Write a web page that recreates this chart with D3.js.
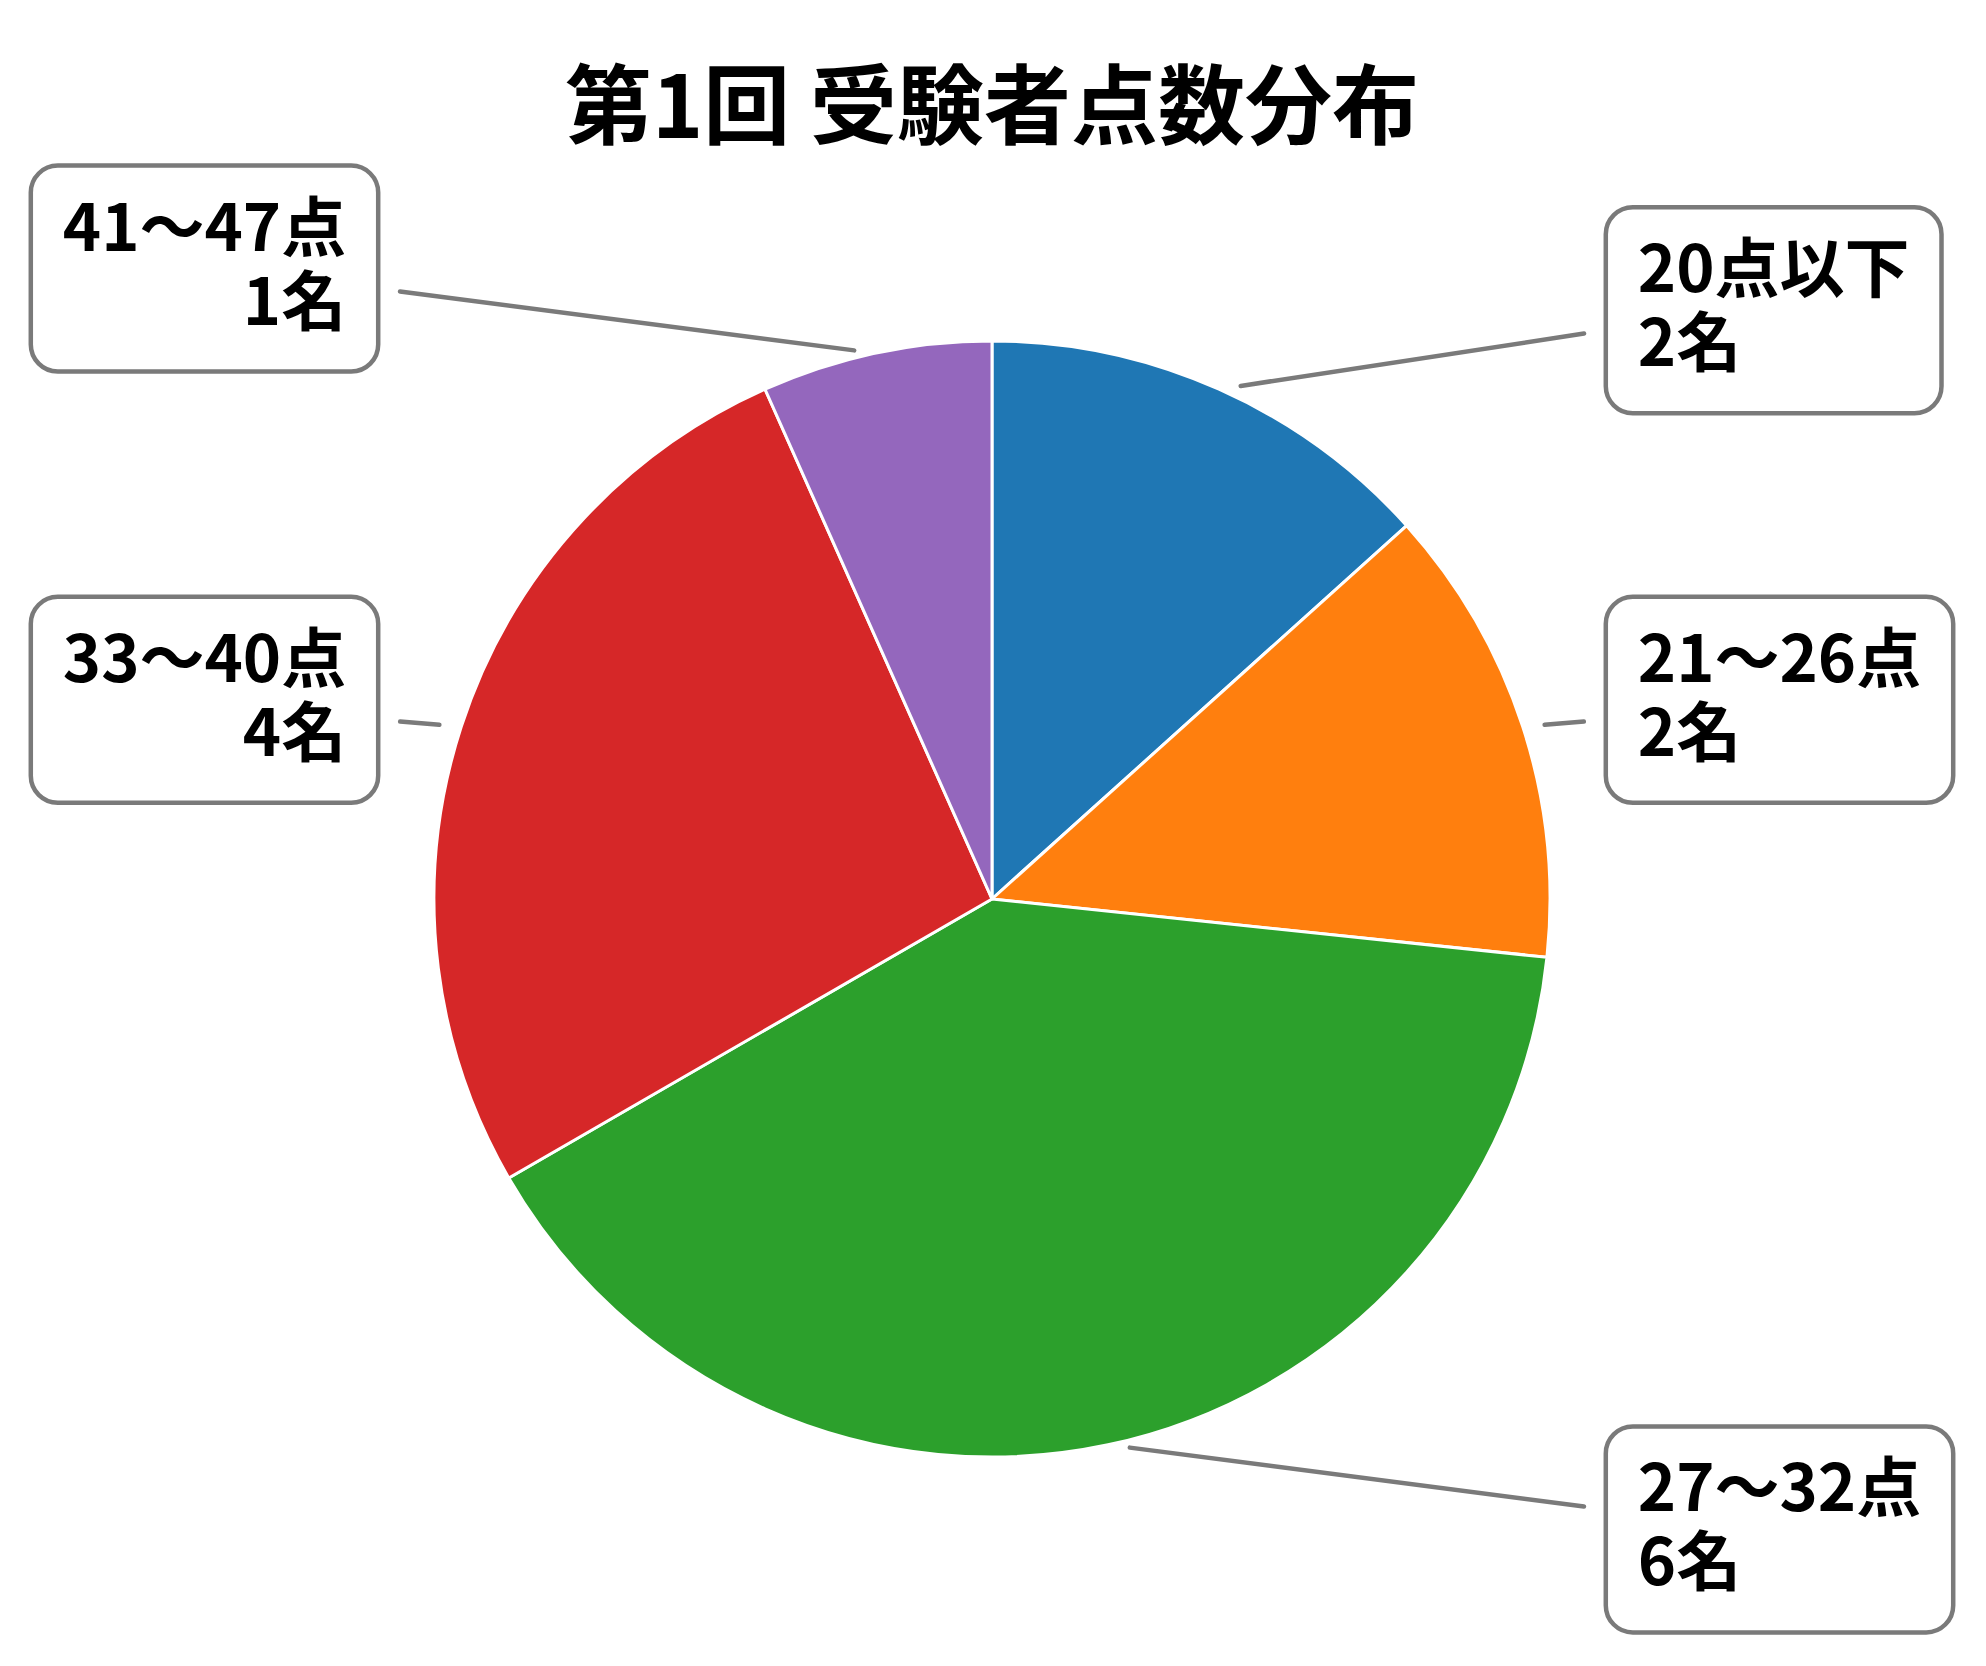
<!DOCTYPE html>
<html>
<head>
<meta charset="utf-8">
<script src="https://cdn.jsdelivr.net/npm/d3@7"></script>
<style>
  html, body { margin: 0; padding: 0; background: #fff; }
  svg text { font-family: "Noto Sans CJK JP", "Noto Sans", sans-serif; font-weight: 700; }
</style>
</head>
<body>
<script>
const title = '第1回 受験者点数分布'
const categories = ['20点以下', '21〜26点', '27〜32点', '33〜40点', '41〜47点']
const counts = [2, 2, 6, 4, 1]
const unit = '名'
const colors = ['#1f77b4', '#ff7f0e', '#2ca02c', '#d62728', '#9467bd']

const WIDTH = 1986
const HEIGHT = 1666
const CX = 992
const CY = 899
const R = 558

const svg = d3.select('body').append('svg')
  .attr('width', WIDTH).attr('height', HEIGHT)

svg.append('text')
  .attr('x', CX).attr('y', 138)
  .attr('text-anchor', 'middle')
  .attr('font-size', 87)
  .attr('fill', '#000')
  .text(title)

const data = categories.map((c, i) => ({ cat: c, n: counts[i], color: colors[i] }))

// 0 = haut, sens horaire (comme le graphique d'origine)
const pie = d3.pie().value(d => d.n).sort(null)
const arcs = pie(data)
const arc = d3.arc().innerRadius(0).outerRadius(R)

const g = svg.append('g').attr('transform', `translate(${CX},${CY})`)

g.selectAll('path')
  .data(arcs)
  .enter()
  .append('path')
  .attr('d', arc)
  .attr('fill', d => d.data.color)
  .attr('stroke', '#fff')
  .attr('stroke-width', 3)

// étiquettes avec cadre arrondi et trait de liaison
const BOX_X = 1.1      // bord intérieur des cadres, en rayons
const BOX_Y = 1.155    // centre vertical des cadres
const LINE_OFF = 20    // cible du trait, décalée vers le centre
const PAD = 32
const SHRINK = 22
const FONT = 65
const LINE_H = 74

const labels = g.selectAll('g.label')
  .data(arcs)
  .enter()
  .append('g')
  .attr('class', 'label')

labels.each(function (d) {
  const a = (d.startAngle + d.endAngle) / 2
  const ux = Math.sin(a), uy = -Math.cos(a)
  const side = ux >= 0 ? 1 : -1
  const edgeX = side * BOX_X * R
  const boxCy = uy * BOX_Y * R

  // trait
  const p0 = [ux * R, uy * R]
  const p1 = [edgeX, boxCy - Math.sign(uy) * LINE_OFF]
  const dx = p1[0] - p0[0], dy = p1[1] - p0[1]
  const len = Math.hypot(dx, dy)
  const ex = dx / len, ey = dy / len
  const sel = d3.select(this)
  sel.append('line')
    .attr('x1', p0[0] + ex * SHRINK).attr('y1', p0[1] + ey * SHRINK)
    .attr('x2', p1[0] - ex * SHRINK).attr('y2', p1[1] - ey * SHRINK)
    .attr('stroke', '#7a7a7a')
    .attr('stroke-width', 4.5)
    .attr('stroke-linecap', 'round')

  const rect = sel.append('rect')
  const textX = edgeX + side * PAD
  const txt = sel.append('text')
    .attr('font-size', FONT)
    .attr('fill', '#000')
    .attr('text-anchor', side > 0 ? 'start' : 'end')
  const lines = [d.data.cat, d.data.n + unit]
  lines.forEach((s, i) => {
    txt.append('tspan')
      .attr('x', textX)
      .attr('y', boxCy - 18 + i * LINE_H)
      .text(s)
  })
  const w = d3.max(txt.selectAll('tspan').nodes(), n => n.getComputedTextLength()) + 2 * PAD
  const h = 206
  rect
    .attr('x', side > 0 ? edgeX : edgeX - w)
    .attr('y', boxCy - h / 2)
    .attr('width', w).attr('height', h)
    .attr('rx', 27).attr('ry', 27)
    .attr('fill', '#fff')
    .attr('stroke', '#7a7a7a')
    .attr('stroke-width', 4.5)
})
</script>
</body>
</html>
